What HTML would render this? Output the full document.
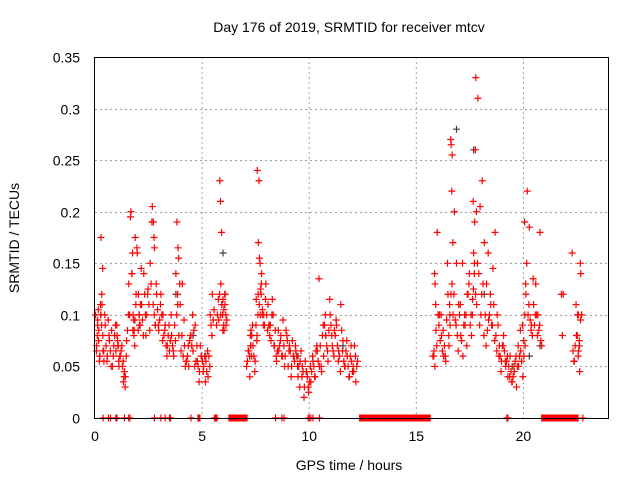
<!DOCTYPE html>
<html><head><meta charset="utf-8"><style>
body{margin:0;background:#fff}
svg{display:block;font-family:"Liberation Sans",sans-serif}
</style></head><body>
<svg id="chart" width="640" height="480">
<text x="349" y="32" font-size="14" text-anchor="middle">Day 176 of 2019, SRMTID for receiver mtcv</text>
<text x="349" y="470" font-size="14" text-anchor="middle">GPS time / hours</text>
<text transform="translate(19,238) rotate(-90)" font-size="14" text-anchor="middle">SRMTID / TECUs</text>
<g id="grid"></g><g id="ticks"></g><g id="marks"></g>
<rect x="94.5" y="57.5" width="514" height="361" fill="none" stroke="#000"/>
</svg>
<script>
const xTicks=[0,5,10,15,20];
const yTicks=[0,0.05,0.1,0.15,0.2,0.25,0.3,0.35];
const yTickLabels=["0","0.05","0.1","0.15","0.2","0.25","0.3","0.35"];
const redTimes=[0.05,0.1,0.15,0.2,0.25,0.3,0.35,0.4,0.5,0.6,0.7,0.8,0.9,1.0,1.05,1.1,1.2,1.3,1.35,1.4,1.5,1.6,1.7,1.75,1.8,1.85,1.9,2.0,2.05,2.1,2.2,2.3,2.4,2.5,2.6,2.7,2.75,2.8,2.9,3.0,3.1,3.2,3.3,3.4,3.5,3.6,3.7,3.8,3.85,3.9,4.0,4.1,4.2,4.3,4.4,4.5,4.6,4.7,4.8,4.9,5.0,5.1,5.2,5.3,5.4,5.5,5.7,5.8,5.85,5.9,5.95,6.0,6.05,6.1,7.1,7.2,7.25,7.3,7.4,7.5,7.55,7.6,7.65,7.7,7.75,7.8,7.9,8.0,8.1,8.2,8.3,8.4,8.5,8.6,8.7,8.8,8.9,9.0,9.1,9.2,9.3,9.4,9.5,9.6,9.7,9.8,9.9,10.0,10.1,10.2,10.3,10.4,10.5,10.6,10.7,10.8,10.9,11.0,11.1,11.2,11.3,11.4,11.5,11.6,11.7,11.8,11.9,12.0,12.1,12.2,15.8,15.85,15.9,16.0,16.1,16.2,16.3,16.4,16.5,16.55,16.6,16.65,16.7,16.8,16.9,17.0,17.1,17.2,17.3,17.4,17.5,17.6,17.65,17.7,17.75,17.8,17.9,18.0,18.1,18.2,18.3,18.4,18.5,18.6,18.7,18.8,18.9,19.0,19.1,19.2,19.3,19.4,19.5,19.6,19.7,19.8,19.9,20.0,20.05,20.1,20.2,20.3,20.4,20.5,20.6,20.7,20.8,21.8,22.3,22.4,22.5,22.55,22.6,22.65,22.7];
const redValues1=[0.1,0.07,0.095,0.085,0.06,0.175,0.11,0.065,0.09,0.06,0.075,0.085,0.07,0.065,0.08,0.07,0.06,0.05,0.035,0.045,0.075,0.13,0.2,0.14,0.1,0.085,0.175,0.16,0.12,0.09,0.11,0.14,0.08,0.125,0.15,0.205,0.19,0.165,0.12,0.085,0.12,0.1,0.09,0.07,0.065,0.08,0.06,0.14,0.19,0.165,0.11,0.13,0.07,0.055,0.05,0.08,0.065,0.09,0.055,0.045,0.06,0.05,0.055,0.04,0.1,0.12,0.09,0.095,0.23,0.13,0.11,0.115,0.085,0.12,0.05,0.065,0.04,0.085,0.07,0.055,0.115,0.24,0.17,0.155,0.125,0.14,0.1,0.13,0.11,0.09,0.115,0.07,0.055,0.065,0.08,0.095,0.06,0.075,0.07,0.05,0.06,0.065,0.04,0.055,0.05,0.03,0.045,0.025,0.035,0.055,0.04,0.065,0.05,0.045,0.06,0.08,0.055,0.1,0.07,0.085,0.09,0.065,0.11,0.075,0.05,0.06,0.04,0.055,0.045,0.035,0.06,0.065,0.13,0.18,0.1,0.08,0.06,0.055,0.12,0.07,0.09,0.265,0.255,0.2,0.15,0.11,0.08,0.06,0.09,0.12,0.14,0.08,0.115,0.16,0.19,0.33,0.31,0.205,0.23,0.17,0.13,0.095,0.11,0.145,0.18,0.1,0.07,0.055,0.08,0.05,0.04,0.06,0.035,0.045,0.03,0.05,0.065,0.04,0.06,0.07,0.22,0.185,0.09,0.11,0.13,0.1,0.18,0.12,0.16,0.055,0.08,0.1,0.065,0.045,0.14,0.12,0.09];
const redValues2=[0.08,0.105,0.055,0.11,0.09,0.145,0.065,0.1,0.055,0.08,0.05,0.06,0.09,0.075,0.055,0.06,0.07,0.04,0.03,0.06,0.1,0.195,0.16,0.095,0.07,0.11,0.165,0.1,0.09,0.145,0.08,0.1,0.12,0.085,0.19,0.175,0.09,0.13,0.09,0.11,0.075,0.085,0.06,0.09,0.1,0.065,0.075,0.12,0.155,0.13,0.08,0.095,0.055,0.07,0.08,0.1,0.05,0.07,0.035,0.06,0.045,0.035,0.065,0.05,0.08,0.105,0.115,0.21,0.18,0.1,0.09,0.12,0.1,0.095,0.065,0.08,0.06,0.09,0.045,0.075,0.1,0.23,0.15,0.12,0.1,0.09,0.115,0.085,0.08,0.1,0.07,0.06,0.085,0.075,0.06,0.05,0.08,0.065,0.04,0.06,0.07,0.05,0.03,0.04,0.02,0.045,0.03,0.05,0.06,0.04,0.07,0.135,0.05,0.09,0.1,0.065,0.115,0.08,0.06,0.095,0.055,0.045,0.065,0.05,0.075,0.04,0.07,0.05,0.06,0.055,0.14,0.11,0.07,0.09,0.1,0.085,0.06,0.15,0.11,0.27,0.22,0.17,0.12,0.09,0.065,0.11,0.15,0.1,0.07,0.13,0.1,0.21,0.14,0.26,0.2,0.15,0.09,0.12,0.08,0.07,0.16,0.12,0.09,0.075,0.065,0.06,0.045,0.07,0.055,0.06,0.04,0.035,0.05,0.06,0.07,0.085,0.09,0.19,0.13,0.15,0.11,0.085,0.135,0.1,0.08,0.09,0.07,0.12,0.055,0.11,0.06,0.075,0.15];
const redValues3=[0.065,0.09,0.075,0.06,0.1,0.12,0.08,0.055,0.07,0.095,0.065,0.05,0.08,0.09,0.07,0.05,0.065,0.055,0.045,0.04,0.085,0.1,0.14,0.085,0.08,0.095,0.12,0.085,0.1,0.11,0.095,0.12,0.1,0.11,0.13,0.11,0.1,0.09,0.105,0.095,0.1,0.08,0.07,0.08,0.075,0.07,0.09,0.1,0.11,0.08,0.065,0.06,0.05,0.06,0.075,0.07,0.085,0.055,0.05,0.07,0.055,0.06,0.045,0.06,0.09,0.095,0.1,0.12,0.1,0.11,0.085,0.105,0.11,0.09,0.055,0.06,0.07,0.08,0.06,0.09,0.08,0.12,0.11,0.1,0.13,0.105,0.09,0.1,0.09,0.075,0.1,0.085,0.065,0.07,0.06,0.07,0.085,0.05,0.065,0.075,0.055,0.06,0.05,0.065,0.045,0.055,0.04,0.035,0.045,0.05,0.065,0.055,0.07,0.08,0.09,0.07,0.085,0.09,0.065,0.08,0.07,0.06,0.085,0.055,0.065,0.05,0.06,0.045,0.07,0.05,0.06,0.05,0.085,0.1,0.075,0.065,0.07,0.095,0.08,0.1,0.12,0.13,0.1,0.095,0.08,0.1,0.075,0.09,0.1,0.12,0.09,0.1,0.125,0.15,0.12,0.11,0.14,0.1,0.13,0.1,0.085,0.1,0.09,0.11,0.08,0.09,0.06,0.07,0.065,0.055,0.05,0.045,0.04,0.055,0.05,0.06,0.055,0.075,0.1,0.12,0.1,0.095,0.08,0.09,0.1,0.085,0.075,0.08,0.065,0.07,0.08,0.1,0.07,0.095,0.1];
const grayTimes=[0.3,1.1,2.1,3.8,4.6,5.2,6.0,7.3,8.2,9.5,10.8,11.6,16.1,16.9,17.7,18.2,19.5,20.3,20.8];
const grayValues=[0.1,0.07,0.09,0.12,0.08,0.06,0.16,0.07,0.09,0.06,0.08,0.07,0.1,0.28,0.26,0.12,0.05,0.06,0.07];
const zeroTimes=[0.4,0.65,0.75,1.0,1.05,1.4,1.6,1.65,2.8,3.1,3.3,3.5,3.55,4.5,5.6,5.65,8.45,8.75,8.85,10.0,10.1,10.2,10.5,19.25,19.3,22.8];
const zeroRangeStart=[4.8,5.6,6.25,9.95,12.35,20.85];
const zeroRangeEnd=[4.95,5.75,7.15,10.05,15.7,22.6];
const X=t=>94.5+t*21.42, Y=v=>418-v*1031.4;
const NS="http://www.w3.org/2000/svg";
function mk(tag,attrs,parent){const e=document.createElementNS(NS,tag);for(const k in attrs)e.setAttribute(k,attrs[k]);parent.appendChild(e);return e;}
const grid=document.getElementById('grid'),ticks=document.getElementById('ticks'),marks=document.getElementById('marks');
xTicks.forEach((t,i)=>{const x=X(t)+0.5;
 if(i>0){const g=mk('line',{x1:x,x2:x,y1:57,y2:418,stroke:'#a0a0a0','stroke-dasharray':'2,3'},grid);
 
 }
 const tx=mk('text',{x:x,y:441,'font-size':14,'text-anchor':'middle'},ticks);tx.textContent=t;
 
 });
yTicks.forEach((v,i)=>{const y=Math.round(Y(v))+0.5;
 if(i>0&&i<yTicks.length-1){const g=mk('line',{x1:95,x2:608,y1:y,y2:y,stroke:'#a0a0a0','stroke-dasharray':'2,3'},grid);
 
 }
 const tx=mk('text',{x:80,y:y+5,'font-size':14,'text-anchor':'end'},ticks);tx.textContent=yTickLabels[i];
 
 });
function plus(t,v,c){const x=X(t),y=Y(v);
 const p=mk('path',{d:`M${x-3.5},${y}h7M${x},${y-3.5}v7`,stroke:c,'stroke-width':1.2,fill:'none'},marks);
 
 }
grayTimes.forEach((t,i)=>plus(t,grayValues[i],'#404040'));
redTimes.forEach((t,i)=>{plus(t,redValues1[i],'#ff0000');plus(t+0.08,redValues2[i],'#ff0000');plus(t+0.04,redValues3[i],'#ff0000');});
zeroTimes.forEach(t=>plus(t,0,'#ff0000'));
zeroRangeStart.forEach((s,i)=>{const r=mk('rect',{x:X(s),y:414.5,width:X(zeroRangeEnd[i])-X(s),height:7,fill:'#ff0000'},marks);
 
 });
</script>
</body></html>
